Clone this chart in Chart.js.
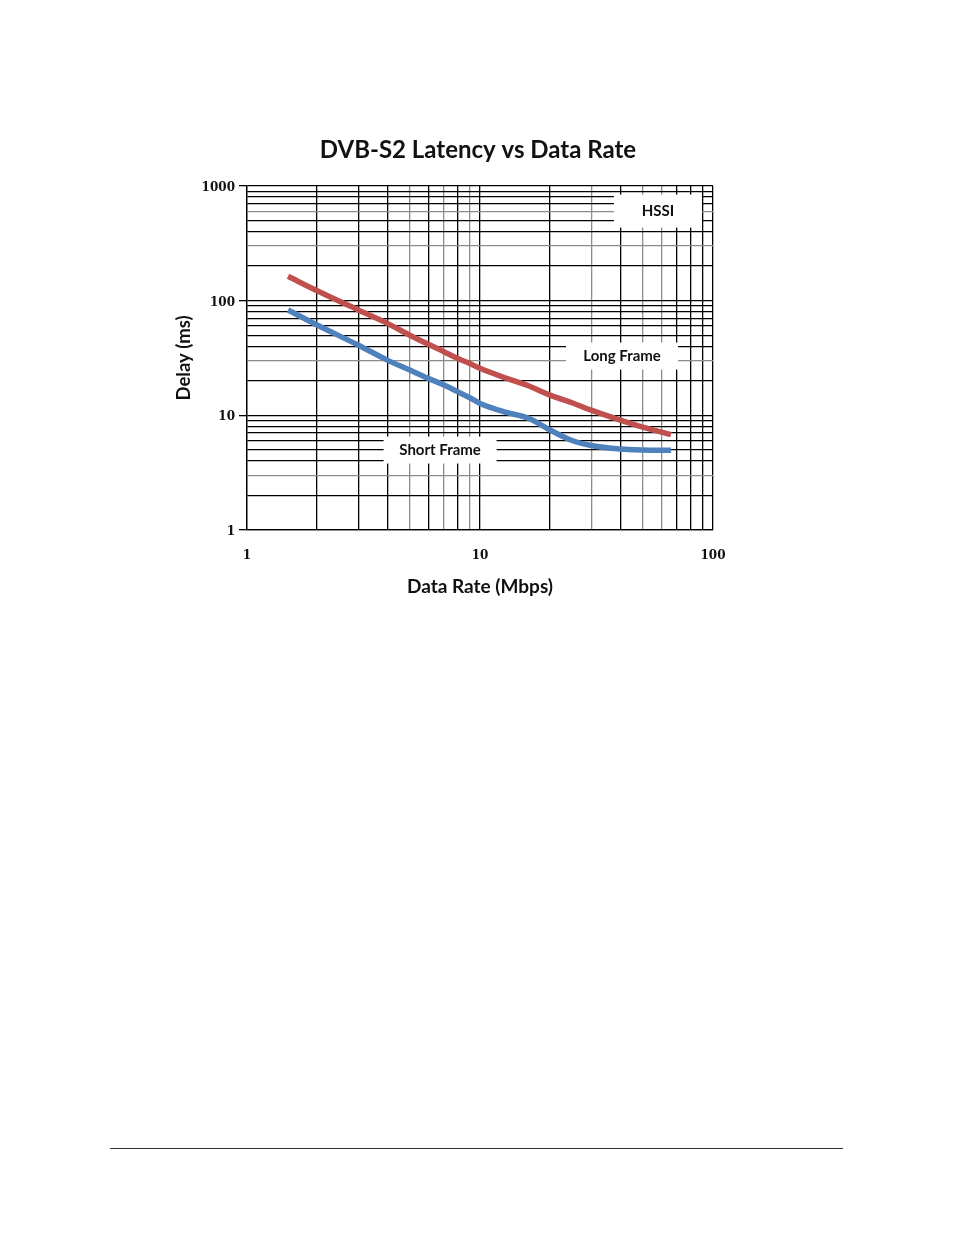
<!DOCTYPE html>
<html>
<head>
<meta charset="utf-8">
<script src="https://cdn.jsdelivr.net/npm/chart.js@4/dist/chart.umd.min.js"></script>
<style>
  html, body { margin: 0; padding: 0; background: #fff; }
  body { width: 954px; height: 1235px; position: relative; overflow: hidden; }
  #wrap { position: absolute; left: 0; top: 0; width: 954px; height: 620px; }
  #footer { position: absolute; left: 110px; top: 1148px; width: 733px; height: 0; border-top: 1px solid #333; }
</style>
</head>
<body>
<div id="wrap"><canvas id="c"></canvas></div>
<div id="footer"></div>
<script>
// ---- data ----
const chartTitle  = 'DVB-S2 Latency vs Data Rate';
const dataRates   = [1.5, 2, 3, 4, 5, 6, 7, 8, 9, 10, 13, 16, 20, 25, 30, 40, 50, 66];
const longFrame   = [163, 122, 83, 63.4, 50, 41.6, 35.9, 31.4, 28.4, 25.7, 21, 18.2, 15, 12.8, 11.1, 9.1, 7.9, 6.8];
const shortFrame  = [83, 61.3, 41, 30.3, 24.8, 21.0, 18.4, 16.1, 14.3, 12.7, 10.6, 9.5, 7.45, 6.0, 5.45, 5.08, 4.98, 4.95];
const xTickValues = [1,2,3,4,5,6,7,8,9,10,20,30,40,50,60,70,80,90,100];
const yTickValues = [1,2,3,4,5,6,7,8,9,10,20,30,40,50,60,70,80,90,100,200,300,400,500,600,700,800,900,1000];
const majorTicks  = [1, 10, 100, 1000];
const xGrayTicks  = [5, 7, 9, 30, 50, 60];
const yGrayTicks  = [3, 30, 300, 600];
const labels      = ['HSSI', 'Long Frame', 'Short Frame'];
const labelX      = [58, 40.7, 6.74];
const labelY      = [604, 32.9, 4.98];
const labelBoxW   = [88, 112, 113];
const labelBoxH   = [33, 27, 27];

const titlePlugin = {
  id: 'pageTitle',
  afterDraw(chart) {
    const ctx = chart.ctx;
    ctx.save();
    ctx.fillStyle = '#111';
    ctx.font = 'bold 24px Lato';
    ctx.textAlign = 'center';
    ctx.textBaseline = 'middle';
    ctx.fillText(chartTitle, 478, 150);
    ctx.restore();
  }
};

const labelPlugin = {
  id: 'boxLabels',
  afterDatasetsDraw(chart) {
    const {ctx, scales: {x, y}} = chart;
    ctx.save();
    labels.forEach((t, i) => {
      const cx = x.getPixelForValue(labelX[i]);
      const cy = y.getPixelForValue(labelY[i]);
      ctx.fillStyle = '#fff';
      ctx.fillRect(cx - labelBoxW[i] / 2, cy - labelBoxH[i] / 2, labelBoxW[i], labelBoxH[i]);
      ctx.fillStyle = '#111';
      ctx.font = 'bold 15px Lato';
      ctx.textAlign = 'center';
      ctx.textBaseline = 'middle';
      ctx.fillText(t, cx, cy);
    });
    ctx.restore();
  }
};

const gridColor = (grays) => (c) => {
  const v = c.tick && c.tick.value;
  return grays.includes(v) ? '#8c8c8c' : '#000';
};
const tickColor = (c) => (c.tick && majorTicks.includes(c.tick.value)) ? '#000' : 'rgba(0,0,0,0)';

new Chart(document.getElementById('c'), {
  type: 'line',
  data: {
    datasets: [
      { label: 'Long Frame', data: dataRates.map((v, i) => ({x: v, y: longFrame[i]})),
        borderColor: '#c0504d', borderWidth: 5.5, pointRadius: 0, cubicInterpolationMode: 'monotone', fill: false },
      { label: 'Short Frame', data: dataRates.map((v, i) => ({x: v, y: shortFrame[i]})),
        borderColor: '#4f81bd', borderWidth: 5.5, pointRadius: 0, cubicInterpolationMode: 'monotone', fill: false }
    ]
  },
  options: {
    responsive: true,
    maintainAspectRatio: false,
    animation: false,
    layout: { padding: { left: 170, right: 241, top: 186, bottom: 18.8 } },
    plugins: {
      legend: { display: false },
      tooltip: { enabled: false },
      title: { display: false }
    },
    scales: {
      x: {
        type: 'logarithmic',
        min: 1, max: 100,
        afterBuildTicks: (s) => { s.ticks = xTickValues.map(v => ({value: v})); },
        afterFit: (s) => { s.height = 71.2; },
        ticks: {
          autoSkip: false, maxRotation: 0, padding: 11, color: '#111',
          font: { family: 'DejaVu Serif', size: 12, weight: 'bold' },
          callback: (v) => majorTicks.includes(v) ? String(v) : ''
        },
        grid: { color: gridColor(xGrayTicks), lineWidth: 1.3, tickColor: 'rgba(0,0,0,0)', tickLength: 8 },
        border: { display: true, color: '#000', width: 1.3 },
        title: {
          display: true, text: 'Data Rate (Mbps)', color: '#111',
          font: { family: 'Lato', size: 19, weight: 'bold', lineHeight: 1.2 },
          padding: { top: 4, bottom: 3 }
        }
      },
      y: {
        type: 'logarithmic',
        min: 1, max: 1000,
        afterBuildTicks: (s) => { s.ticks = yTickValues.map(v => ({value: v})); },
        afterFit: (s) => { s.width = 77; },
        ticks: {
          autoSkip: false, padding: 4, color: '#111', labelOffset: 2,
          font: { family: 'DejaVu Serif', size: 12, weight: 'bold' },
          callback: (v) => majorTicks.includes(v) ? String(v) : ''
        },
        grid: { color: gridColor(yGrayTicks), lineWidth: 1.3, tickColor: tickColor, tickLength: 8 },
        border: { display: true, color: '#000', width: 1.3 },
        title: {
          display: true, text: 'Delay (ms)', color: '#111',
          font: { family: 'Lato', size: 18.5, weight: 'bold', lineHeight: 1.2 },
          padding: { top: 3, bottom: 4 }
        }
      }
    }
  },
  plugins: [labelPlugin, titlePlugin]
});
</script>
</body>
</html>
